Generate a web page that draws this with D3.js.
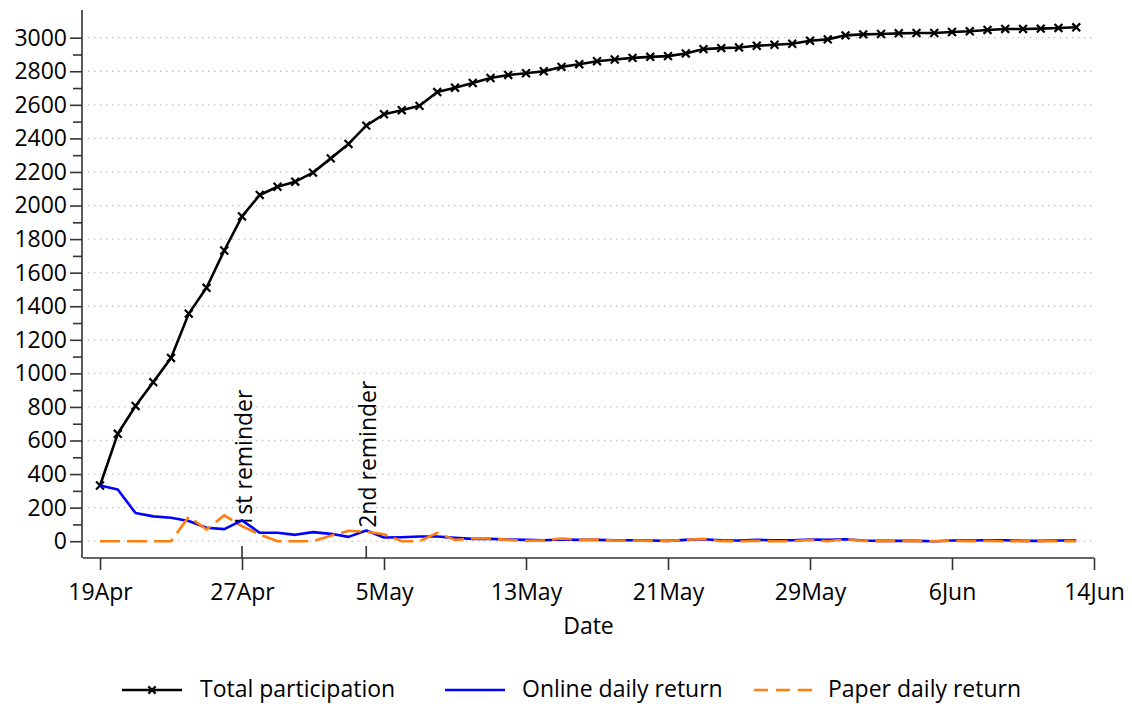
<!DOCTYPE html>
<html><head><meta charset="utf-8">
<script src="https://cdn.jsdelivr.net/npm/d3@7"></script>
<style>
body{margin:0;background:#fff}
svg{display:block}
text{font-family:"Open Sans",sans-serif;fill:#000}
</style>
</head><body>
<svg id="c" width="1132" height="704"></svg>
<script>
// ---------- data ----------
const startDate = "19Apr2021";
const totalParticipation = [332,640,806,948,1092,1356,1510,1732,1935,2063,2112,2142,2196,2281,2367,2476,2544,2568,2594,2676,2702,2730,2760,2778,2788,2800,2826,2842,2860,2870,2880,2886,2890,2906,2932,2938,2942,2952,2958,2964,2982,2990,3014,3020,3022,3026,3028,3028,3034,3038,3046,3052,3052,3054,3058,3062];
const onlineDaily = [332,308,168,148,140,120,80,72,124,50,50,38,54,44,26,64,22,24,28,28,20,14,14,10,8,6,10,8,8,6,6,4,2,8,12,6,4,8,6,6,10,8,12,4,2,2,2,0,4,4,6,6,2,2,4,4];
const paperDaily = [0,0,0,0,0,146,70,154,90,40,0,0,0,32,62,56,42,0,0,50,8,16,16,8,2,6,16,8,10,4,4,2,2,8,14,0,0,2,0,0,8,0,12,2,0,2,0,0,2,0,2,0,0,0,0,0];
const xTickLabels = ["19Apr","27Apr","5May","13May","21May","29May","6Jun","14Jun"];
const yTickValues = d3.range(0, 3001, 200);
const yMinorValues = d3.range(100, 3000, 200);
const reminderDates = ["27Apr","4May"];
const reminderLabels = ["1st reminder","2nd reminder"];
const seriesNames = ["Total participation","Online daily return","Paper daily return"];
const xTitle = "Date";

// ---------- setup ----------
const parse = s => d3.utcParse("%d%b%Y")(s + "2021");
const day0 = d3.utcParse("%d%b%Y")(startDate);
const dates = totalParticipation.map((_, i) => d3.utcDay.offset(day0, i));
const svg = d3.select("#c");
const FS = 23;

const x = d3.scaleUtc()
  .domain([d3.utcHour.offset(day0, -23), parse("14Jun")])
  .range([83, 1094]);
const y = d3.scaleLinear().domain([-100, 3165]).range([558, 10]);

// grid
svg.append("g").selectAll("line").data(yTickValues).join("line")
  .attr("x1", 88).attr("x2", 1094)
  .attr("y1", d => y(d)).attr("y2", d => y(d))
  .attr("stroke", "#bdbdbd").attr("stroke-width", 1.3)
  .attr("stroke-dasharray", "1.3,4.7");

// y axis
const yAxis = svg.append("g").attr("transform", "translate(82,0)")
  .call(d3.axisLeft(y).tickValues(yTickValues).tickSize(12).tickPadding(3)
        .tickFormat(d3.format("d")).tickSizeOuter(0));
svg.append("g").attr("transform", "translate(82,0)")
  .call(d3.axisLeft(y).tickValues(yMinorValues).tickSize(9).tickFormat("").tickSizeOuter(0))
  .select(".domain").remove();
// x axis
const xAxis = svg.append("g").attr("transform", "translate(0,558)")
  .call(d3.axisBottom(x).tickValues(xTickLabels.map(parse)).tickSize(12)
        .tickFormat(d3.utcFormat("%-d%b")).tickSizeOuter(0));
xAxis.selectAll("text").attr("y", 42).attr("dy", 0);

svg.selectAll(".tick line, .domain").attr("stroke", "#333").attr("stroke-width", 1.6);
svg.selectAll(".tick text").attr("font-size", FS).attr("font-family", '"Open Sans",sans-serif').attr("fill", "#000");
yAxis.select(".domain").attr("d", `M0,${y(-100)}V10`);
xAxis.select(".domain").attr("d", `M83,0H1094`);

// x title
svg.append("text").attr("x", 588.5).attr("y", 634).attr("text-anchor", "middle")
  .attr("font-size", FS).text(xTitle);

// reminders
reminderDates.forEach((d, i) => {
  const xp = x(parse(d));
  svg.append("line").attr("x1", xp).attr("x2", xp).attr("y1", y(-100) - 12).attr("y2", y(-100))
    .attr("stroke", "#333").attr("stroke-width", 1.6);
  svg.append("text").attr("transform", `translate(${xp + 10},${y(80)}) rotate(-90)`)
    .attr("font-size", FS).text(reminderLabels[i]);
});

// lines
const line = d3.line().x((d, i) => x(dates[i])).y(d => y(d));
svg.append("path").datum(totalParticipation).attr("d", line)
  .attr("fill", "none").attr("stroke", "#000").attr("stroke-width", 2.6).attr("stroke-linejoin", "round");
svg.append("g").selectAll("path").data(totalParticipation).join("path")
  .attr("transform", (d, i) => `translate(${x(dates[i])},${y(d)})`)
  .attr("d", d3.symbol(d3.symbolTimes, 42))
  .attr("fill", "none").attr("stroke", "#000").attr("stroke-width", 2.2);
svg.append("path").datum(onlineDaily).attr("d", line)
  .attr("fill", "none").attr("stroke", "#0000ff").attr("stroke-width", 2.6).attr("stroke-linejoin", "round");
svg.append("path").datum(paperDaily).attr("d", line)
  .attr("fill", "none").attr("stroke", "#ff7f0e").attr("stroke-width", 2.6)
  .attr("stroke-dasharray", "20,7");

// legend
const lg = svg.append("g");
const ly = 690;
const tb = 697;
lg.append("line").attr("x1", 122).attr("x2", 182).attr("y1", ly).attr("y2", ly)
  .attr("stroke", "#000").attr("stroke-width", 2.6);
lg.append("path").attr("transform", `translate(152,${ly})`).attr("d", d3.symbol(d3.symbolTimes, 36))
  .attr("fill", "none").attr("stroke", "#000").attr("stroke-width", 2.2);
lg.append("text").attr("x", 200).attr("y", tb).attr("font-size", FS).text(seriesNames[0]);
lg.append("line").attr("x1", 445).attr("x2", 505).attr("y1", ly).attr("y2", ly)
  .attr("stroke", "#0000ff").attr("stroke-width", 2.6);
lg.append("text").attr("x", 522).attr("y", tb).attr("font-size", FS).text(seriesNames[1]);
lg.append("line").attr("x1", 754).attr("x2", 812).attr("y1", ly).attr("y2", ly)
  .attr("stroke", "#ff7f0e").attr("stroke-width", 2.6).attr("stroke-dasharray", "14,8");
lg.append("text").attr("x", 828).attr("y", tb).attr("font-size", FS).text(seriesNames[2]);
</script>
</body></html>
